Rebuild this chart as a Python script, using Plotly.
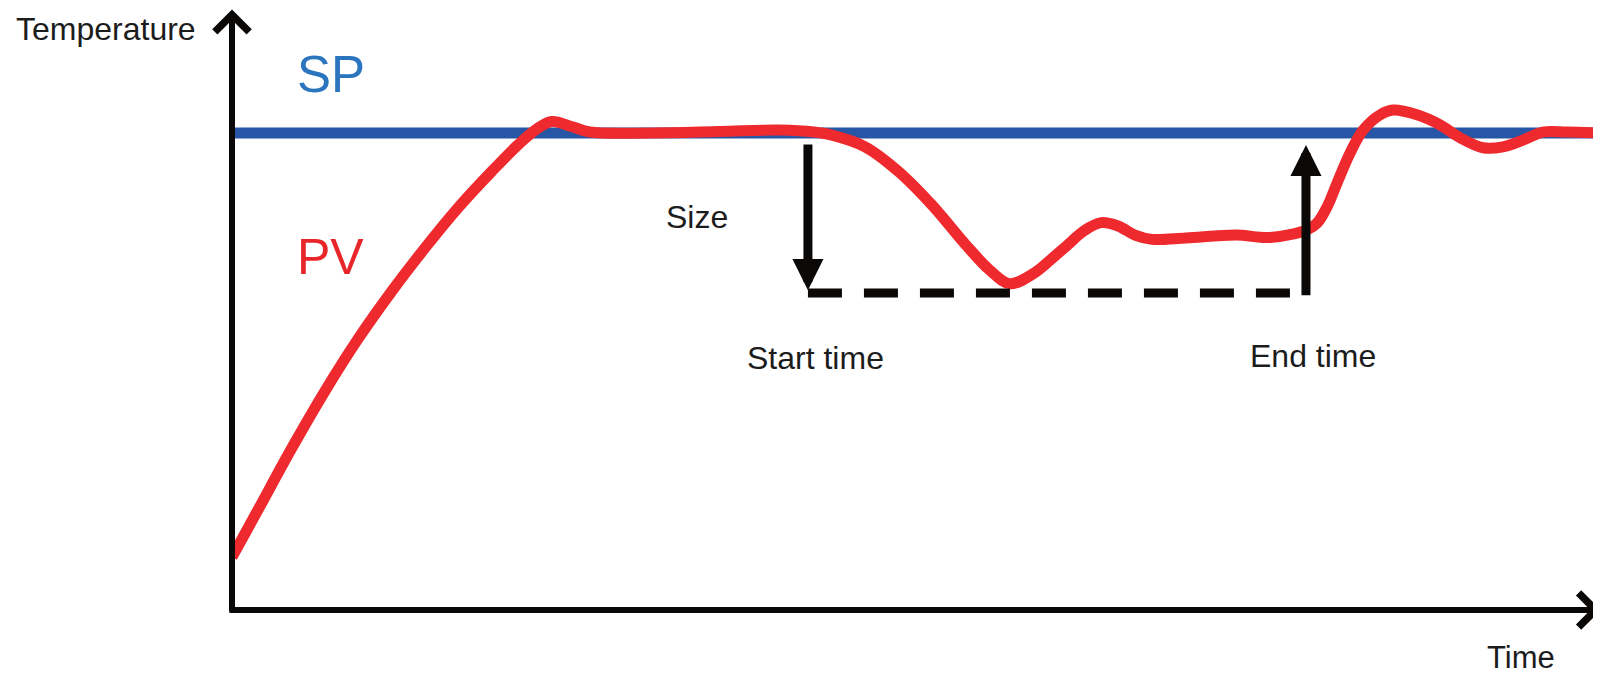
import plotly.graph_objects as go

# ---- data (time and temperature in arbitrary units) ----
time_pv = [0, 1.9, 4.38, 6.79, 9.2, 11.69, 14.1, 16.51, 18.99, 20.89, 22.35, 23.37, 24.84,
           26.15, 30.53, 35.65, 40.03, 42.5, 43.75, 46.24, 48.65, 51.13, 53.62, 55.37, 56.83,
           58.58, 59.75, 60.99, 62.24, 63.48, 64.72, 65.96, 67.2, 69.69, 73.34, 75.82, 78.52,
           79.26, 79.99, 80.72, 81.67, 82.62, 83.86, 84.81, 86.56, 88.24, 89.7, 91.38, 92.84,
           94.3, 95.76, 97.52, 100]
temp_pv = [11.1, 21.0, 34.0, 45.9, 56.8, 66.9, 75.9, 84.3, 92.0, 97.5, 101.0, 102.4, 101.3,
           100.2, 100.0, 100.3, 100.6, 100.2, 99.6, 97.1, 92.0, 84.9, 76.5, 71.2, 68.4,
           70.6, 73.3, 76.4, 79.5, 81.2, 80.5, 78.6, 77.7, 78.0, 78.6, 78.1, 79.7,
           81.1, 84.5, 89.5, 95.8, 100.6, 103.8, 104.8, 103.8, 101.7, 99.0, 96.9, 97.1,
           98.5, 100.2, 100.2, 100]
time_sp = [0, 100]
temp_sp = [100, 100]

start_time = 42.07
end_time = 78.45
size_level = 66.45
arrow_top = 97.9
time_max = 100
temp_max = 126.2

FONT = "Liberation Sans, Arial, sans-serif"
BLACK = "#0b0908"

fig = go.Figure()
fig.add_trace(go.Scatter(x=time_sp, y=temp_sp, mode="lines",
                         line=dict(color="#2756a6", width=11), hoverinfo="skip"))
fig.add_trace(go.Scatter(x=time_pv, y=temp_pv, mode="lines",
                         line=dict(color="#ee2a2e", width=11, shape="spline", smoothing=1.0),
                         hoverinfo="skip"))
fig.add_trace(go.Scatter(x=[start_time, end_time], y=[size_level, size_level], mode="lines",
                         line=dict(color=BLACK, width=9, dash="34px,22px"), hoverinfo="skip"))

annotations = []
# axes arrows
annotations.append(dict(x=0, y=temp_max - 0.3, ax=0, ay=-0.6, xref="x", yref="y", axref="x", ayref="y",
                        text="", showarrow=True, arrowhead=4, arrowwidth=6, arrowsize=1.1,
                        arrowcolor=BLACK))
annotations.append(dict(x=time_max, y=0, ax=-0.3, ay=0, xref="x", yref="y", axref="x", ayref="y",
                        text="", showarrow=True, arrowhead=4, arrowwidth=6, arrowsize=1.1,
                        arrowcolor=BLACK))
# size arrows
annotations.append(dict(x=start_time, y=size_level + 0.6, ax=start_time, ay=arrow_top,
                        xref="x", yref="y", axref="x", ayref="y",
                        text="", showarrow=True, arrowhead=2, arrowwidth=9, arrowsize=0.69,
                        arrowcolor=BLACK))
annotations.append(dict(x=end_time, y=97.5, ax=end_time, ay=size_level - 0.8,
                        xref="x", yref="y", axref="x", ayref="y",
                        text="", showarrow=True, arrowhead=2, arrowwidth=9, arrowsize=0.69,
                        arrowcolor=BLACK))

# page has an 8px body margin: figure is placed at (8, 8) in the window
OFF = 8
W, H = 1601 - OFF, 674 - OFF
ML, MR, MT, MB = 232 - OFF, 0, 8 - OFF, 64
PW, PH = W - ML - MR, H - MT - MB

def lab(text, px, py, size, color="#1c1c1c"):
    fx, fy = px - OFF, py - OFF
    return dict(text=text, x=(fx - ML) / PW, y=(H - MB - fy) / PH, xref="paper", yref="paper",
                xanchor="center", yanchor="middle", showarrow=False,
                font=dict(family=FONT, size=size, color=color))

annotations += [
    lab("Temperature", 106, 29, 32),
    lab("SP", 331, 74, 51, "#2b74be"),
    lab("PV", 330, 257, 50, "#e8262a"),
    lab("Size", 697, 217, 32),
    lab("Start time", 815, 358, 32),
    lab("End time", 1313, 356, 32),
    lab("Time", 1521, 657, 31),
]

fig.update_layout(
    width=W, height=H,
    margin=dict(l=ML, r=MR, t=MT, b=MB, pad=0),
    paper_bgcolor="white", plot_bgcolor="white",
    showlegend=False,
    xaxis=dict(range=[0, 100], visible=False, fixedrange=True),
    yaxis=dict(range=[0, temp_max], visible=False, fixedrange=True),
    annotations=annotations,
)

fig.write_html("out.html")
